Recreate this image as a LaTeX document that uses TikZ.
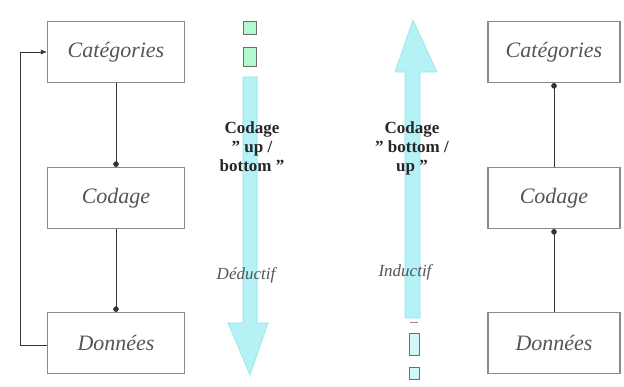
\documentclass[tikz,border=0pt]{standalone}
\usepackage{fontspec}
\setmainfont{Liberation Serif}
\usetikzlibrary{arrows.meta,positioning}
\definecolor{boxgray}{HTML}{8A8A8A}
\definecolor{txtgray}{HTML}{555555}
\definecolor{arrcyan}{HTML}{B4F2F6}
\definecolor{arredge}{HTML}{8FE3EA}
\tikzset{
  catbox/.style={draw=boxgray, line width=1.2pt, minimum width=137pt, minimum height=61pt, inner sep=0pt,
    font=\fontsize{22}{24}\selectfont\itshape, text=txtgray},
  link/.style={draw=black!80, line width=0.6pt, -{Circle[length=5.5pt]}},
  bigarrow/.style={fill=arrcyan, draw=arredge, line width=0.6pt},
  smallsq/.style={draw=boxgray!80!black, fill=arrcyan!70!green!60, line width=0.8pt},
  boldlab/.style={font=\fontsize{17}{19}\selectfont\bfseries, text=black!85, align=center, inner sep=0pt},
  itlab/.style={font=\fontsize{17}{19}\selectfont\itshape, text=txtgray, inner sep=0pt}
}
\begin{document}
\begin{tikzpicture}[x=1pt,y=-1pt]
\useasboundingbox (0,0) rectangle (624,387);
% left column
\node[catbox] (c1) at (116,52) {Catégories};
\node[catbox] (k1) at (116,198) {Codage};
\node[catbox] (d1) at (116,343) {Données};
\draw[link] (c1.south) -- (k1.north);
\draw[link] (k1.south) -- (d1.north);
\coordinate (lb) at (20,345);
\coordinate (lt) at (20,52);
\draw[draw=black!80, line width=0.6pt, -{Latex[length=6pt,width=5pt]}] (d1.west |- lb) -- (lb) -- (lt) -- (c1.west);
% left big arrow (down)
\draw[bigarrow] (243,77) -- (257,77) -- (257,323) -- (268,323) -- (250,375) -- (228,323) -- (243,323) -- cycle;
\node[smallsq, minimum width=13pt, minimum height=13pt, inner sep=0pt] (s1) at (250,28) {};
\node[smallsq, minimum width=13pt, minimum height=19pt, inner sep=0pt] (s2) at (250,57) {};
\node[boldlab] (t1) at (252,147) {Codage\\" up /\\bottom "};
\node[itlab] (t2) at (246,275) {Déductif};
% middle big arrow (up)
\draw[bigarrow] (405,318) -- (420,318) -- (420,72) -- (437,72) -- (413,20) -- (395,72) -- (405,72) -- cycle;
\node[smallsq, fill=arrcyan!60, minimum width=10pt, minimum height=22pt, inner sep=0pt] (s3) at (414,344) {};
\node[smallsq, fill=arrcyan!60, minimum width=10pt, minimum height=12pt, inner sep=0pt] (s4) at (414,373) {};
\coordinate (m1) at (410,322);
\coordinate (m2) at (418,322);
\draw[boxgray, line width=0.8pt] (m1) -- (m2);
\node[boldlab] (t3) at (412,148) {Codage\\" bottom /\\up "};
\node[itlab] (t4) at (405,272) {Inductif};
% right column
\node[catbox, minimum width=132pt] (c2) at (554,52) {Catégories};
\node[catbox, minimum width=132pt] (k2) at (554,198) {Codage};
\node[catbox, minimum width=132pt] (d2) at (554,343) {Données};
\draw[link] (k2.north) -- (c2.south);
\draw[link] (d2.north) -- (k2.south);
\end{tikzpicture}
\end{document}
